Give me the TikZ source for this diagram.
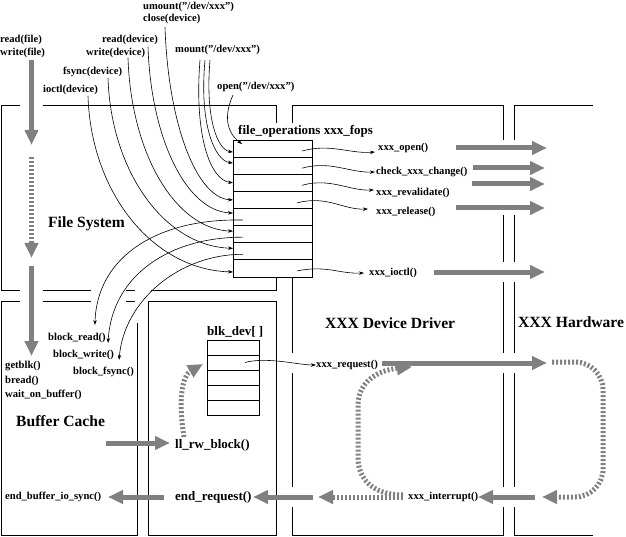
\documentclass[tikz,border=0pt]{standalone}
\usepackage{fontspec}
\setmainfont{Liberation Serif}
\usetikzlibrary{arrows.meta,calc}
\definecolor{arr}{RGB}{128,128,128}
\begin{document}
\begin{tikzpicture}[x=1pt,y=-1pt,
  lab/.style={anchor=west,inner sep=0pt,font=\fontsize{10.6}{12}\selectfont\bfseries},
  mlab/.style={anchor=west,inner sep=0pt,font=\fontsize{13}{15}\selectfont\bfseries},
  blab/.style={anchor=west,inner sep=0pt,font=\fontsize{15.6}{18}\selectfont\bfseries},
  frame/.style={line width=0.8pt},
  cell/.style={draw,line width=0.8pt,minimum width=79pt,minimum height=17.125pt,inner sep=0pt,outer sep=0pt},
  bcell/.style={draw,line width=0.8pt,minimum width=52pt,minimum height=15pt,inner sep=0pt,outer sep=0pt},
  call/.style={line width=0.6pt,-{Stealth[length=5pt,width=3.5pt]}},
  gsolid/.style={line width=5pt,draw=arr,-{Triangle[length=15pt,width=13pt]}},
  gdot/.style={gsolid,dash pattern=on 2pt off 2pt},
]
\useasboundingbox (0,0) rectangle (626,537);

% ---------- frames ----------
\draw[frame] (20,105)--(1.5,105)--(1.5,290)--(20,290);
\draw[frame] (43,105)--(276,105)--(276,123);
\draw[frame] (43,290)--(91,290) (126,290)--(135,290) (151,290)--(276,290)--(276,278);
\draw[frame] (292,123)--(292,105)--(503,105)--(503,140);
\draw[frame] (503,215)--(503,262) (503,282)--(503,353) (503,373)--(503,487)
             (503,507)--(503,535)--(292,535)--(292,507) (292,487)--(292,373) (292,353)--(292,278);
\draw[frame] (514,140)--(514,105)--(593,105);
\draw[frame] (514,215)--(514,262) (514,282)--(514,353) (514,373)--(514,487)
             (514,507)--(514,535)--(593,535);
\draw[frame] (20,301)--(1.5,301)--(1.5,535)--(137,535)--(137,323);
\draw[frame] (43,301)--(91,301) (126,301)--(135,301);
\draw[frame] (148,301) rectangle (276,535);

% ---------- tables ----------
\foreach \i in {1,...,8}
  \node[cell] (f\i) at (272.5,{140+17.125*(\i-0.5)}) {};
\foreach \i in {1,...,5}
  \node[bcell] (b\i) at (233,{340+15*(\i-0.5)}) {};

% ---------- labels ----------
\node[lab] (umount) at (143,7) {umount("/dev/xxx")};
\node[lab] (close) at (143,19) {close(device)};
\node[lab] (readfile) at (0,40) {read(file)};
\node[lab] (writefile) at (0,53) {write(file)};
\node[lab] (readdev) at (102,40) {read(device)};
\node[lab] (writedev) at (86,53) {write(device)};
\node[lab] (mount) at (175,50) {mount("/dev/xxx")};
\node[lab] (fsync) at (63,72) {fsync(device)};
\node[lab] (ioctl) at (43,90) {ioctl(device)};
\node[lab] (open) at (217,87) {open("/dev/xxx")};
\node[mlab] (fops) at (238,131) {file\_operations xxx\_fops};
\node[lab] (xopen) at (378,148) {xxx\_open()};
\node[lab] (xcheck) at (376,172) {check\_xxx\_change()};
\node[lab] (xreval) at (376,193) {xxx\_revalidate()};
\node[lab] (xrel) at (376,212) {xxx\_release()};
\node[lab] (xioctl) at (369,273) {xxx\_ioctl()};
\node[blab] (fs) at (48,224) {File System};
\node[lab] (bread) at (48,338) {block\_read()};
\node[lab] (bwrite) at (53,355) {block\_write()};
\node[lab] (bfsync) at (73,372) {block\_fsync()};
\node[lab] (getblk) at (5,366) {getblk()};
\node[lab] (breadf) at (5,381) {bread()};
\node[lab] (wob) at (5,395) {wait\_on\_buffer()};
\node[blab] (bc) at (16,421) {Buffer Cache};
\node[mlab] (blkdev) at (207,332) {blk\_dev[ ]};
\node[mlab] (ll) at (175,445) {ll\_rw\_block()};
\node[mlab] (endreq) at (175,497) {end\_request()};
\node[lab] (ebis) at (5,497) {end\_buffer\_io\_sync()};
\node[blab] (dd) at (325,323) {XXX Device Driver};
\node[blab] (hw) at (518,322) {XXX Hardware};
\node[lab] (xreq) at (316,365) {xxx\_request()};
\node[lab] (xint) at (408,497) {xxx\_interrupt()};

% ---------- call curves into fops ----------
\coordinate (s-ioctl) at (88,96);
\coordinate (s-fsync) at (108,78);
\coordinate (s-write) at (128,58);
\coordinate (s-read) at (148,47);
\coordinate (s-close) at (165,27);
\coordinate (s-ma) at (200,60);
\coordinate (s-mb) at (205,60);
\coordinate (s-mc) at (210,60);
\coordinate (s-open) at (233,95);

\draw[call] (s-ioctl) .. controls (91,193) and (153,270) .. ($(f8.west)+(0,3.5)$);
\draw[call] (s-fsync) .. controls (111,171) and (164,246) .. ($(f7.west)+(0,-3)$);
\draw[call] (s-write) .. controls (131,153) and (175,229) .. ($(f6.west)+(0,-3)$);
\draw[call] (s-read) .. controls (151,138) and (186,211) .. ($(f5.west)+(0,-4)$);
\draw[call] (s-close) .. controls (168,122) and (196,198) .. (f4.west);
\draw[call] (s-ma) .. controls (194,135) and (210,180) .. (f3.west);
\draw[call] (s-mb) .. controls (199,125) and (215,161) .. ($(f2.west)+(0,-2.7)$);
\draw[call] (s-mc) .. controls (205,120) and (218,150) .. ($(f1.west)+(0,3.5)$);
\draw[call] (s-open) .. controls (224,115) and (226,132) .. ($(f1.north west)+(9,4)$);

% ---------- fops to block_* ----------
\draw[call] ($(f5.west)+(10,3)$) .. controls (160,218) and (97,255) .. ($(bread.north east)+(-11,-8)$);
\draw[call] ($(f6.west)+(10,3)$) .. controls (170,237) and (112,275) .. ($(bwrite.north east)+(-6,-7)$);
\draw[call] ($(f7.west)+(10,3)$) .. controls (180,254) and (124,300) .. ($(bfsync.north east)+(-15,-7)$);

% ---------- fops to xxx_* ----------
\draw[call] ($(f1.east)+(-10,2.5)$) .. controls +(28,-8) and +(-25,2) .. ($(xopen.west)+(-3,4)$);
\draw[call] ($(f2.east)+(-10,2.5)$) .. controls +(28,-8) and +(-25,1) .. ($(xcheck.west)+(-1,0)$);
\draw[call] ($(f3.east)+(-10,2.5)$) .. controls +(28,-8) and +(-25,1) .. ($(xreval.west)+(-2,-3)$);
\draw[call] ($(f4.east)+(-15,3)$) .. controls +(30,-8) and +(-25,1) .. ($(xrel.west)+(-8,-3)$);
\draw[call] ($(f8.east)+(-15,2.5)$) .. controls +(30,-6) and +(-25,1) .. ($(xioctl.west)+(-5,0)$);

% ---------- blk_dev to xxx_request ----------
\draw[call] ($(b2.center)+(12,0)$) .. controls +(22,-6) and +(-18,0) .. (xreq.west);

% ---------- grey arrows ----------
\draw[gsolid] (31.5,60)--(31.5,145);
\draw[gdot] (31.5,157)--(31.5,258);
\draw[gsolid] (31.5,266)--(31.5,356);

\draw[gsolid] (456,148)--(547,148);
\draw[gsolid] (473,168)--(545,168);
\draw[gsolid] (472,184)--(545,184);
\draw[gsolid] (456,208)--(545,208);
\draw[gsolid] (434,272)--(545,272);

\draw[gsolid] (106,443)--(170,443);
\draw[gdot] (184,437) .. controls (178,400) and (182,376) .. (203,364);
\draw[gsolid] (164,497)--(108,497);
\draw[gsolid] (313,497)--(253,497);
\draw[gdot] (403,497)--(318,497);
\draw[gsolid] (535,497)--(478,497);
\draw[gsolid] (382,363)--(547,363);
\draw[gdot,rounded corners=28pt] (552,362)--(603,362)--(603,497)--(542,497);
\draw[gdot] (403,495) .. controls (372,495) and (358,478) .. (358,458) -- (358,405)
            .. controls (358,382) and (378,370) .. (412,367);
\end{tikzpicture}
\end{document}
